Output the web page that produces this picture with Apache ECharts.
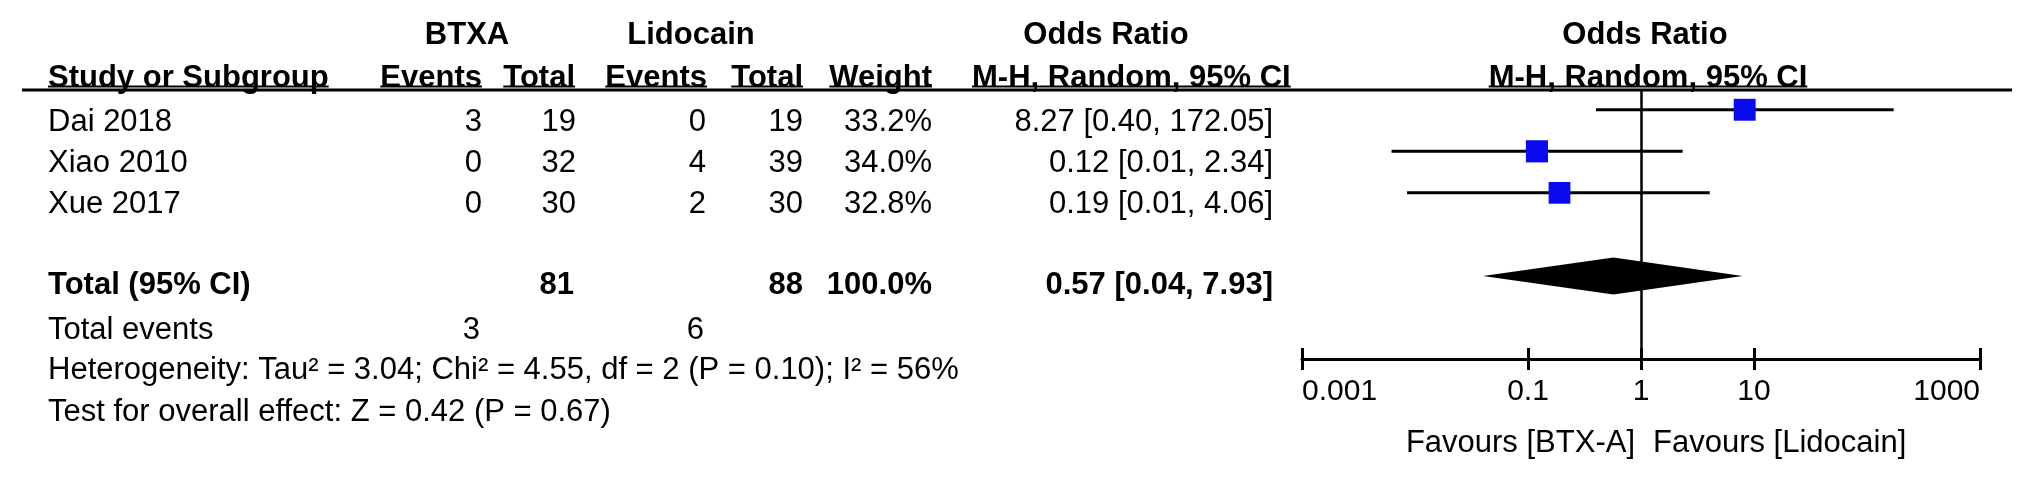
<!DOCTYPE html>
<html><head><meta charset="utf-8">
<script src="https://cdn.jsdelivr.net/npm/echarts@6/dist/echarts.min.js"></script>
<style>html,body{margin:0;padding:0;background:#fff}#c{width:2031px;height:482px}</style>
</head><body><div id="c"></div>
<script>
// ---------- data ----------
const studies = ['Dai 2018', 'Xiao 2010', 'Xue 2017'];
const btxaEvents = [3, 0, 0];
const btxaTotal = [19, 32, 30];
const lidoEvents = [0, 4, 2];
const lidoTotal = [19, 39, 30];
const weights = ['33.2%', '34.0%', '32.8%'];
const weightValues = [33.2, 34.0, 32.8];
const orEst = [8.27, 0.12, 0.19];
const orLow = [0.40, 0.0062, 0.0085];   // whisker ends as drawn
const orHigh = [172.05, 2.34, 4.06];
const ciLabels = ['8.27 [0.40, 172.05]', '0.12 [0.01, 2.34]', '0.19 [0.01, 4.06]'];
const pooledOR = [0.57, 0.04, 7.93];      // estimate, low, high
const totalRow = ['Total (95% CI)', '81', '88', '100.0%', '0.57 [0.04, 7.93]'];
const totalEvents = ['Total events', '3', '6'];
const heterogeneityText = 'Heterogeneity: Tau\u00b2 = 3.04; Chi\u00b2 = 4.55, df = 2 (P = 0.10); I\u00b2 = 56%';
const overallText = 'Test for overall effect: Z = 0.42 (P = 0.67)';
const tickValues = [0.001, 0.1, 1, 10, 1000];
const tickLabels = ['0.001', '0.1', '1', '10', '1000'];
const favours = ['Favours [BTX-A]', 'Favours [Lidocain]'];
const headerTop = ['BTXA', 'Lidocain', 'Odds Ratio', 'Odds Ratio'];
const headerCols = ['Study or Subgroup', 'Events', 'Total', 'Events', 'Total', 'Weight', 'M-H, Random, 95% CI', 'M-H, Random, 95% CI'];

// ---------- layout ----------
const FONT = "'Liberation Sans', Arial, Helvetica, sans-serif";
const FS = 31;
const colRight = [482, 576, 706, 803, 932, 1273]; // right edges of numeric columns
const textRowY = [122, 163, 204];
const totalY = 285, eventsY = 330, hetY = 370, testY = 412;
const h1Y = 35, h2Y = 78;
const plotRowTotal = 4;

const mctx = document.createElement('canvas').getContext('2d');
function tw(t, bold) { mctx.font = (bold ? 'bold ' : '') + FS + 'px ' + FONT; return mctx.measureText(t).width; }

const g = [];
function txt(t, x, y, align, bold, size) {
  g.push({ type: 'text', x: x, y: y, z: 10, style: { text: String(t), fill: '#000', font: (bold ? 'bold ' : '') + (size || FS) + 'px ' + FONT, align: align, verticalAlign: 'middle' } });
}
function line(x1, y1, x2, y2, w) {
  g.push({ type: 'line', z: 10, shape: { x1: x1, y1: y1, x2: x2, y2: y2 }, style: { stroke: '#000', lineWidth: w } });
}
// header row 1
txt(headerTop[0], 467, h1Y, 'center', true);
txt(headerTop[1], 691, h1Y, 'center', true);
txt(headerTop[2], 1106, h1Y, 'center', true);
txt(headerTop[3], 1645, h1Y, 'center', true);
// header row 2 (underlined)
const h2 = [
  [headerCols[0], 48, 'left'], [headerCols[1], 482, 'right'], [headerCols[2], 575, 'right'],
  [headerCols[3], 707, 'right'], [headerCols[4], 803, 'right'], [headerCols[5], 932, 'right'],
  [headerCols[6], 972, 'left'], [headerCols[7], 1648, 'center']
];
h2.forEach(([t, x, a]) => {
  txt(t, x, h2Y, a, true);
  const w = tw(t, true);
  const x0 = a === 'left' ? x : a === 'right' ? x - w : x - w / 2;
  line(x0, 86.5, x0 + w, 86.5, 2);
});
line(22, 90, 2012, 90, 3);
// study rows
studies.forEach((s, i) => {
  const y = textRowY[i];
  txt(s, 48, y, 'left', false);
  txt(btxaEvents[i], colRight[0], y, 'right', false);
  txt(btxaTotal[i], colRight[1], y, 'right', false);
  txt(lidoEvents[i], colRight[2], y, 'right', false);
  txt(lidoTotal[i], colRight[3], y, 'right', false);
  txt(weights[i], colRight[4], y, 'right', false);
  txt(ciLabels[i], colRight[5], y, 'right', false);
});
// totals
txt(totalRow[0], 48, totalY, 'left', true);
txt(totalRow[1], colRight[1] - 2, totalY, 'right', true);
txt(totalRow[2], colRight[3], totalY, 'right', true);
txt(totalRow[3], colRight[4], totalY, 'right', true);
txt(totalRow[4], colRight[5], totalY, 'right', true);
txt(totalEvents[0], 48, eventsY, 'left', false);
txt(totalEvents[1], colRight[0] - 2, eventsY, 'right', false);
txt(totalEvents[2], colRight[2] - 2, eventsY, 'right', false);
txt(heterogeneityText, 48, hetY, 'left', false);
txt(overallText, 48, testY, 'left', false);
// favours
txt(favours[0], 1635, 443, 'right', false);
txt(favours[1], 1653, 443, 'left', false);

// ---------- chart ----------
const lg = v => Math.log10(v);
const tickLog = tickValues.map(lg);
function tickText(v) {
  for (let i = 0; i < tickLog.length; i++) if (Math.abs(tickLog[i] - v) < 1e-6) return tickLabels[i];
  return '';
}
const baseX = { type: 'value', min: -3, max: 3, position: 'bottom', splitLine: { show: false } };

const chart = echarts.init(document.getElementById('c'), null, { renderer: 'canvas' });
chart.setOption({
  animation: false,
  backgroundColor: '#fff',
  grid: { left: 1302, right: 51, top: 89, bottom: 123, containLabel: false },
  xAxis: [
    Object.assign({}, baseX, {
      axisLine: { onZero: false, lineStyle: { color: '#000', width: 3 } },
      axisTick: { customValues: tickLog, length: 11, lineStyle: { color: '#000', width: 3 } },
      axisLabel: { customValues: tickLog, formatter: tickText, color: '#000', fontSize: 30, fontFamily: FONT, margin: 18, alignMinLabel: 'left', alignMaxLabel: 'right' }
    }),
    Object.assign({}, baseX, {
      axisLine: { show: false, onZero: false },
      axisTick: { customValues: tickLog, inside: true, length: 11, lineStyle: { color: '#000', width: 3 } },
      axisLabel: { show: false }
    })
  ],
  yAxis: { type: 'value', inverse: true, min: -0.5, max: 6, show: false },
  graphic: g,
  series: [
    {
      type: 'custom', name: 'ci', xAxisIndex: 0,
      data: studies.map((s, i) => [lg(orLow[i]), lg(orHigh[i]), i]),
      renderItem: function (params, api) {
        const p1 = api.coord([api.value(0), api.value(2)]);
        const p2 = api.coord([api.value(1), api.value(2)]);
        return { type: 'line', shape: { x1: p1[0], y1: p1[1], x2: p2[0], y2: p2[1] }, style: { stroke: '#000', lineWidth: 3 } };
      },
      markLine: {
        silent: true, symbol: 'none', label: { show: false },
        lineStyle: { color: '#000', width: 2.5, type: 'solid' },
        data: [{ xAxis: 0 }]
      },
      z: 2
    },
    {
      type: 'scatter', name: 'OR', symbol: 'rect',
      data: studies.map((s, i) => [lg(orEst[i]), i, weightValues[i]]),
      symbolSize: d => 3.8 * Math.sqrt(d[2]),
      itemStyle: { color: '#0a0af0', opacity: 1 },
      z: 3
    },
    {
      type: 'custom', name: 'pooled',
      data: [[lg(pooledOR[0]), lg(pooledOR[1]), lg(pooledOR[2]), plotRowTotal]],
      renderItem: function (params, api) {
        const c = api.coord([api.value(0), api.value(3)]);
        const l = api.coord([api.value(1), api.value(3)]);
        const r = api.coord([api.value(2), api.value(3)]);
        const h = 18.5;
        return { type: 'polygon', shape: { points: [[l[0], c[1]], [c[0], c[1] - h], [r[0], c[1]], [c[0], c[1] + h]] }, style: { fill: '#000' } };
      },
      z: 3
    }
  ]
});
</script></body></html>
